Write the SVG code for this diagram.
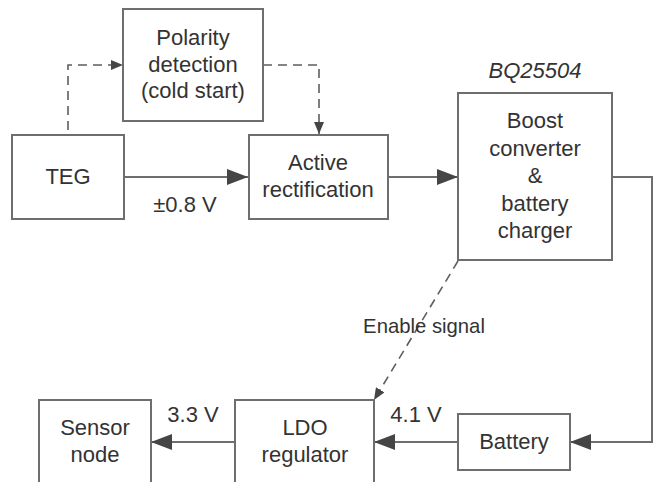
<svg xmlns="http://www.w3.org/2000/svg" width="654" height="482" viewBox="0 0 654 482">
<defs>
<style>
.box{fill:#fff;stroke:#6e6e6e;stroke-width:2}
.ln{fill:none;stroke:#6e6e6e;stroke-width:2}
.ds{fill:none;stroke:#5e5e5e;stroke-width:1.6;stroke-dasharray:9,6}
text{font-family:"Liberation Sans",Arial,sans-serif;font-size:22px;fill:#333;text-anchor:middle}
text.sm{font-size:20.3px}
.it{font-style:italic}
</style>
<marker id="big" markerWidth="21" markerHeight="16" refX="21" refY="8" orient="auto" markerUnits="userSpaceOnUse"><path d="M0,0 L21,8 L0,16 Z" fill="#454545"/></marker>
<marker id="sm" markerWidth="12" markerHeight="10" refX="12" refY="5" orient="auto" markerUnits="userSpaceOnUse"><path d="M0,0 L12,5 L0,10 Z" fill="#454545"/></marker>
</defs>
<rect width="654" height="482" fill="#fff"/>
<g id="connectors">
<path class="ln" d="M124,177 H248" marker-end="url(#big)"/>
<path class="ln" d="M388,177 H458" marker-end="url(#big)"/>
<path class="ln" d="M612,177 H652 V442 H570" marker-end="url(#big)"/>
<path class="ln" d="M458,442 H374" marker-end="url(#big)"/>
<path class="ln" d="M235,442 H151" marker-end="url(#big)"/>
<path class="ds" d="M68,130 V65 H123" marker-end="url(#sm)"/>
<path class="ds" d="M263,65 H319 V134" marker-end="url(#sm)"/>
<path class="ds" d="M458,261 L374,400" marker-end="url(#sm)"/>
<text x="185" y="212">±0.8 V</text>
<text class="sm" x="424" y="333">Enable signal</text>
<text x="416" y="422">4.1 V</text>
<text x="193" y="422">3.3 V</text>
</g>
<g id="polarity">
<rect class="box" x="123" y="9" width="140" height="112"/>
<text x="193" y="45">Polarity</text>
<text x="193" y="72">detection</text>
<text x="193" y="98">(cold start)</text>
</g>
<g id="teg">
<rect class="box" x="12" y="135" width="112" height="84"/>
<text x="68" y="184">TEG</text>
</g>
<g id="active">
<rect class="box" x="249" y="135" width="139" height="84"/>
<text x="318" y="170">Active</text>
<text x="318" y="197">rectification</text>
</g>
<g id="boost">
<text class="it" x="535" y="78">BQ25504</text>
<rect class="box" x="458" y="93" width="154" height="167"/>
<text x="535" y="128">Boost</text>
<text x="535" y="156">converter</text>
<text x="535" y="183">&amp;</text>
<text x="535" y="211">battery</text>
<text x="535" y="238">charger</text>
</g>
<g id="battery">
<rect class="box" x="458" y="414" width="112" height="56"/>
<text x="514" y="449">Battery</text>
</g>
<g id="ldo">
<rect class="box" x="235" y="400" width="139" height="90"/>
<text x="305" y="435">LDO</text>
<text x="305" y="462">regulator</text>
</g>
<g id="sensor">
<rect class="box" x="39" y="400" width="112" height="90"/>
<text x="95" y="435">Sensor</text>
<text x="95" y="462">node</text>
</g>
</svg>
